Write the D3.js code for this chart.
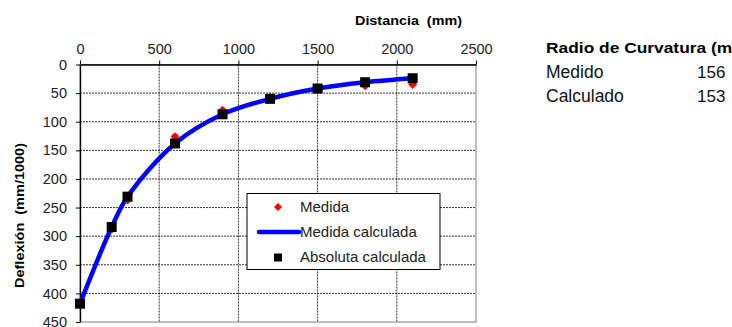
<!DOCTYPE html>
<html>
<head>
<meta charset="utf-8">
<script src="https://cdn.jsdelivr.net/npm/d3@7"></script>
<style>
  body { margin: 0; background: #fff; overflow: hidden; }
  svg { display: block; font-family: Arial, "Liberation Sans", sans-serif; }
</style>
</head>
<body>
<div id="chart"></div>
<script>
// datos
var distancias = [0, 200, 300, 600, 900, 1200, 1500, 1800, 2100];
var medida = [415, 288, 237, 126, 80, 57, 44, 37, 35];
var medidaCalc = [418, 284, 231, 138, 87, 60, 42, 31, 24];
var absolutaCalc = [418, 284, 231, 138, 87, 60, 42, 31, 24];
var xTicks = [0, 500, 1000, 1500, 2000, 2500];
var yTicks = [0, 50, 100, 150, 200, 250, 300, 350, 400, 450];
var leyenda = ["Medida", "Medida calculada", "Absoluta calculada"];
var radioEtiquetas = ["Medido", "Calculado"];
var radioValores = [156, 153];

var width = 732, height = 327;

var svg = d3.select("#chart").append("svg")
  .attr("width", width)
  .attr("height", height);

var x = d3.scaleLinear().domain([0, 2500]).range([80, 476]);
var y = d3.scaleLinear().domain([0, 450]).range([64.5, 322]);

// rejilla punteada
svg.append("g").selectAll("line")
  .data(xTicks.slice(1, -1))
  .enter().append("line")
  .attr("x1", function(d) { return x(d); })
  .attr("x2", function(d) { return x(d); })
  .attr("y1", y(0)).attr("y2", y(450))
  .style("stroke", "#000").style("stroke-width", 0.8)
  .style("stroke-dasharray", "2,1");

svg.append("g").selectAll("line")
  .data(yTicks.slice(1, -1))
  .enter().append("line")
  .attr("y1", function(d) { return y(d); })
  .attr("y2", function(d) { return y(d); })
  .attr("x1", x(0)).attr("x2", x(2500))
  .style("stroke", "#000").style("stroke-width", 0.8)
  .style("stroke-dasharray", "2,1");

// marco
svg.append("rect")
  .attr("x", x(0)).attr("y", y(0))
  .attr("width", x(2500) - x(0)).attr("height", y(450) - y(0))
  .style("fill", "none").style("stroke", "#808080").style("stroke-width", 1);

// ejes
var xAxis = svg.append("g")
  .attr("transform", "translate(0," + y(0) + ")")
  .call(d3.axisTop(x).tickValues(xTicks).tickSize(4).tickSizeOuter(0).tickFormat(d3.format("d")));
var yAxis = svg.append("g")
  .attr("transform", "translate(" + x(0) + ",0)")
  .call(d3.axisLeft(y).tickValues(yTicks).tickSize(4).tickSizeOuter(0).tickFormat(d3.format("d")));

[xAxis, yAxis].forEach(function(a) {
  a.selectAll("text").style("font-size", "14.5px").style("fill", "#222")
    .style("font-family", "Arial, 'Liberation Sans', sans-serif");
  a.select(".domain").style("stroke", "#000").style("stroke-width", 1.3);
  a.selectAll(".tick line").style("stroke", "#000");
});
xAxis.selectAll("text").attr("y", -11);
yAxis.selectAll("text").attr("x", -13);

// títulos de ejes (con doble espacio)
svg.append("text")
  .attr("x", 355).attr("y", 25)
  .attr("textLength", 107).attr("lengthAdjust", "spacingAndGlyphs")
  .style("white-space", "pre")
  .style("font-weight", "bold").style("font-size", "13px")
  .text("Distancia  (mm)");

svg.append("text")
  .attr("transform", "translate(24,288) rotate(-90)")
  .attr("textLength", 145).attr("lengthAdjust", "spacingAndGlyphs")
  .style("white-space", "pre")
  .style("font-weight", "bold").style("font-size", "13px")
  .text("Deflexión  (mm/1000)");

// línea calculada
var linea = d3.line()
  .x(function(d, i) { return x(distancias[i]); })
  .y(function(d) { return y(d); })
  .curve(d3.curveCatmullRom);

svg.append("path")
  .datum(medidaCalc)
  .attr("d", linea)
  .style("fill", "none")
  .style("stroke", "#0000ff")
  .style("stroke-width", 4.5);

// puntos medidos
var rombo = d3.symbol().type(d3.symbolSquare).size(40);
svg.append("g").selectAll("path")
  .data(medida)
  .enter().append("path")
  .attr("d", rombo)
  .attr("transform", function(d, i) { return "translate(" + x(distancias[i]) + "," + y(d) + ") rotate(45)"; })
  .style("fill", "#ff0000");

// absoluta calculada
svg.append("g").selectAll("rect")
  .data(absolutaCalc)
  .enter().append("rect")
  .attr("x", function(d, i) { return x(distancias[i]) - 5; })
  .attr("y", function(d) { return y(d) - 5; })
  .attr("width", 10).attr("height", 10)
  .style("fill", "#000");

// leyenda
var leg = svg.append("g").attr("transform", "translate(247,193.5)");
leg.append("rect")
  .attr("width", 193).attr("height", 76)
  .style("fill", "#fff").style("stroke", "#000").style("stroke-width", 1);

leg.selectAll("text")
  .data(leyenda)
  .enter().append("text")
  .attr("x", 53)
  .attr("y", function(d, i) { return 18.5 + i * 25; })
  .style("font-size", "15px").style("fill", "#222")
  .text(function(d) { return d; });

leg.append("path")
  .attr("d", d3.symbol().type(d3.symbolSquare).size(32))
  .attr("transform", "translate(31,13.5) rotate(45)")
  .style("fill", "#ff0000");
leg.append("line")
  .attr("x1", 12).attr("x2", 52).attr("y1", 38.5).attr("y2", 38.5)
  .style("stroke", "#0000ff").style("stroke-width", 4.5).style("stroke-linecap", "round");
leg.append("rect")
  .attr("x", 27).attr("y", 60).attr("width", 8).attr("height", 8)
  .style("fill", "#000");

// radio de curvatura
svg.append("text")
  .attr("x", 546).attr("y", 52.5)
  .attr("textLength", 192).attr("lengthAdjust", "spacingAndGlyphs")
  .style("font-weight", "bold").style("font-size", "14px")
  .text("Radio de Curvatura (m)");

var filas = svg.append("g").selectAll("g")
  .data(radioEtiquetas)
  .enter().append("g")
  .attr("transform", function(d, i) { return "translate(0," + (77.5 + i * 24.3) + ")"; });
filas.append("text")
  .attr("x", 546)
  .style("font-size", "17.5px").style("fill", "#111")
  .text(function(d) { return d; });
filas.append("text")
  .attr("x", 697)
  .style("font-size", "17px").style("fill", "#111")
  .text(function(d, i) { return radioValores[i]; });
</script>
</body>
</html>
